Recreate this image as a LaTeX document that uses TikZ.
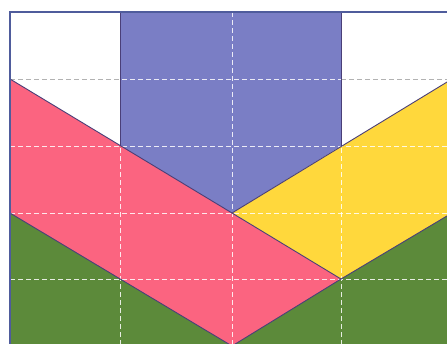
\documentclass[tikz,border=0pt]{standalone}
\definecolor{cblue}{HTML}{7A7EC5}
\definecolor{cpink}{HTML}{FB6480}
\definecolor{cyellow}{HTML}{FFD83C}
\definecolor{cgreen}{HTML}{5C8A3A}
\definecolor{cedge}{HTML}{4A3F78}
\definecolor{cframe}{HTML}{4F5C9C}
\tikzset{
  gridline/.style={white, opacity=0.85, line width=0.9pt, dash pattern=on 5pt off 3pt},
  gridgray/.style={gray!60, line width=0.9pt, dash pattern=on 5pt off 3pt},
  edge/.style={cedge, line width=0.9pt, line join=round},
  frameline/.style={cframe, line width=1.2pt}
}
\begin{document}
\begin{tikzpicture}[x=1pt,y=-1pt]
\useasboundingbox (0,0) rectangle (447,343);
\clip (0,0) rectangle (447,343);
\fill[white] (0,0) rectangle (447,343);
% key points
\coordinate (tl) at (10,12);
\coordinate (br) at (452,360);
\coordinate (pA) at (10,79);
\coordinate (pB) at (120,146);
\coordinate (pC) at (232,213);
\coordinate (pD) at (341,146);
\coordinate (pE) at (341,279);
\coordinate (pF) at (232,346);
\coordinate (pG) at (10,213);
\coordinate (pH) at (452,79);
\coordinate (pI) at (452,213);
% shapes
\fill[cblue] (120,12) -- (341,12) -- (pD) -- (pC) -- (pB) -- cycle;
\fill[cpink] (pA) -- (pE) -- (pF) -- (pG) -- cycle;
\fill[cyellow] (pC) -- (pH) -- (pI) -- (pE) -- cycle;
\fill[cgreen] (pG) -- (pF) -- (pE) -- (pI) -- (452,360) -- (10,360) -- cycle;
% grid
\foreach \x in {120,232,341} \draw[gridline] (\x,12) -- (\x,360);
\foreach \y in {79,146,213,279} \draw[gridline] (10,\y) -- (452,\y);
\draw[gridgray] (10,79) -- (120,79);
\draw[gridgray] (341,79) -- (452,79);
% edges
\draw[edge] (pA) -- (pC) -- (pE) -- (pF) -- (pG);
\draw[edge] (pC) -- (pH);
\draw[edge] (pE) -- (pI);
\draw[edge] (120,12) -- (pB);
\draw[edge] (341,12) -- (pD);
% frame
\draw[frameline] (tl) rectangle (br);
\end{tikzpicture}
\end{document}
